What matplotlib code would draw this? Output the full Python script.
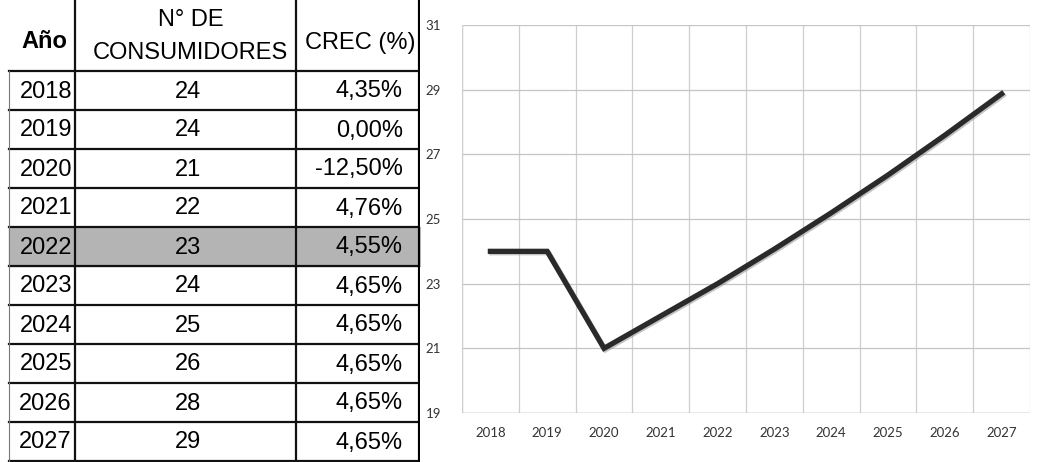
import matplotlib.pyplot as plt
import matplotlib.patheffects as pe
from matplotlib.ticker import MultipleLocator

# ==============================
# Datos de la tabla
# ==============================
anios = ['2018', '2019', '2020', '2021', '2022', '2023', '2024', '2025', '2026', '2027']
consumidores = ['24', '24', '21', '22', '23', '24', '25', '26', '28', '29']
crecimiento = ['4,35%', '0,00%', '-12,50%', '4,76%', '4,55%',
               '4,65%', '4,65%', '4,65%', '4,65%', '4,65%']
fila_resaltada = '2022'

# Valores de la curva (proyección sin redondear)
curva = [24.0, 24.0, 21.0, 22.0, 23.0, 24.07, 25.19, 26.36, 27.59, 28.87]
y_ticks = [19, 21, 23, 25, 27, 29, 31]

W, H = 1037, 462
fig = plt.figure(figsize=(W / 100, H / 100), dpi=100)

# ==============================
# Tabla (coordenadas en píxeles)
# ==============================
TW = 420
axt = fig.add_axes([0, 0, TW / W, 1])
axt.set_xlim(0, TW)
axt.set_ylim(H, 0)
axt.axis('off')

x_cols = [9, 75, 296, 420]
y_head = 71
row_h = 39
fuente = 'Liberation Sans'
fs = 17

# fila resaltada
i_res = anios.index(fila_resaltada)
axt.fill_between([x_cols[0], x_cols[-1]], y_head + i_res * row_h,
                 y_head + (i_res + 1) * row_h, color='#b4b4b4', zorder=0)

# encabezado
axt.text((x_cols[0] + x_cols[1]) / 2 + 2, 42, 'Año', ha='center', va='center',
         fontsize=fs, fontweight='bold', family=fuente)
axt.text((x_cols[1] + x_cols[2]) / 2 + 5, 20, 'N° DE', ha='center', va='center',
         fontsize=fs, family=fuente)
axt.text((x_cols[1] + x_cols[2]) / 2 + 5, 53, 'CONSUMIDORES', ha='center', va='center',
         fontsize=fs, family=fuente)
axt.text((x_cols[2] + x_cols[3]) / 2 + 2, 43, 'CREC (%)', ha='center', va='center',
         fontsize=fs, family=fuente)

# filas
for i, (a, c, p) in enumerate(zip(anios, consumidores, crecimiento)):
    yc = y_head + (i + 0.5) * row_h + 1
    axt.text(x_cols[1] - 3, yc, a, ha='right', va='center', fontsize=fs, family=fuente)
    axt.text((x_cols[1] + x_cols[2]) / 2 + 3, yc, c, ha='center', va='center',
             fontsize=fs, family=fuente)
    axt.text(x_cols[3] - 17, yc, p, ha='right', va='center', fontsize=fs, family=fuente)

# líneas de la tabla
for k in range(len(anios) + 1):
    y = y_head + k * row_h
    axt.plot([x_cols[0], x_cols[-1]], [y, y], color='#111111', lw=1.6)
axt.plot([x_cols[0], x_cols[0]], [y_head, y_head + len(anios) * row_h], color='#777777', lw=0.8)
for x in x_cols[1:3]:
    axt.plot([x, x], [0, H], color='#111111', lw=1.6)
axt.plot([x_cols[3], x_cols[3]], [0, H], color='#000000', lw=3)

# ==============================
# Gráfica
# ==============================
left, right = 462, 1030
top, bottom = 25, 413
ax = fig.add_axes([left / W, 1 - bottom / H, (right - left) / W, (bottom - top) / H])
x = range(len(anios))
ax.plot(x, curva, color='#2a2a2a', lw=3.8, solid_joinstyle='miter', zorder=3,
        path_effects=[pe.SimpleLineShadow(offset=(1, -1), shadow_color='#888888', alpha=0.5),
                      pe.Normal()])
ax.set_xlim(-0.5, len(anios) - 0.5)
ax.set_ylim(19, 31)
ax.set_yticks(y_ticks)
ax.set_xticks(list(x))
ax.set_xticklabels(anios)
ax.xaxis.set_minor_locator(MultipleLocator(1, offset=0.5))
ax.grid(which='minor', axis='x', color='#cfcfcf', lw=0.9)
ax.grid(which='major', axis='y', color='#c4c4c4', lw=0.9)
ax.tick_params(which='both', length=0)
ax.tick_params(axis='x', pad=10, labelsize=9.5, colors='#333333')
ax.tick_params(axis='y', pad=15, labelsize=9.5, colors='#333333')
for lbl in ax.get_xticklabels() + ax.get_yticklabels():
    lbl.set_family('Lato')
for s in ax.spines.values():
    s.set_visible(False)
ax.axvline(-0.5, color='#cfcfcf', lw=0.9)
ax.axhline(19, color='#b0b0b0', lw=1.0)

fig.savefig('out.png', dpi=100)
